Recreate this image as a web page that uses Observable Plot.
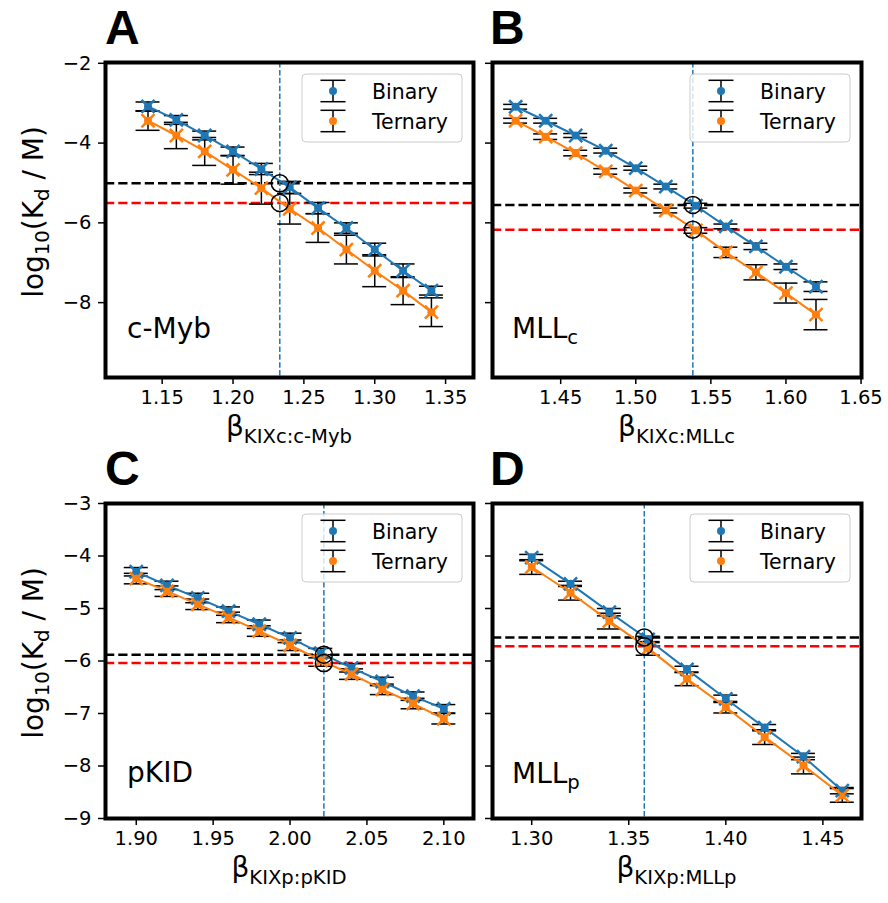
<!DOCTYPE html>
<html><head><meta charset="utf-8">
<script src="https://cdn.jsdelivr.net/npm/d3@7"></script>
<script src="https://cdn.jsdelivr.net/npm/@observablehq/plot@0.6"></script>
<style>
html,body{margin:0;padding:0;background:#fff;}
#wrap{position:relative;width:888px;height:903px;overflow:hidden;background:#fff;}
#wrap > div.p{position:absolute;}
#overlay{position:absolute;left:0;top:0;pointer-events:none;}
</style></head><body>
<div id="wrap"></div>
<script>
const blue = "#1f77b4", orange = "#ff7f0e";

// ---- Panel A: c-Myb ----
const xA = [1.14, 1.16, 1.18, 1.20, 1.22, 1.24, 1.26, 1.28, 1.30, 1.32, 1.34];
const binA = [-3.08, -3.42, -3.81, -4.21, -4.65, -5.11, -5.63, -6.13, -6.67, -7.20, -7.70];
const binErrA = [0.11, 0.11, 0.11, 0.11, 0.14, 0.15, 0.14, 0.13, 0.16, 0.17, 0.11];
const terA = [-3.44, -3.81, -4.21, -4.67, -5.13, -5.65, -6.13, -6.67, -7.20, -7.70, -8.24];
const terErrA = [0.24, 0.33, 0.35, 0.36, 0.40, 0.38, 0.36, 0.36, 0.40, 0.35, 0.36];
const hBlackA = -5.01, hRedA = -5.50, vA = 1.233;
const xTicksA = [1.15, 1.20, 1.25, 1.30, 1.35];

// ---- Panel B: MLLc ----
const xB = [1.42, 1.44, 1.46, 1.48, 1.50, 1.52, 1.54, 1.56, 1.58, 1.60, 1.62];
const binB = [-3.09, -3.44, -3.81, -4.19, -4.63, -5.09, -5.57, -6.09, -6.59, -7.10, -7.60];
const binErrB = [0.06, 0.06, 0.05, 0.06, 0.05, 0.06, 0.06, 0.06, 0.08, 0.07, 0.12];
const terB = [-3.44, -3.84, -4.25, -4.71, -5.19, -5.69, -6.19, -6.74, -7.24, -7.76, -8.30];
const terErrB = [0.06, 0.07, 0.07, 0.07, 0.06, 0.06, 0.07, 0.13, 0.19, 0.25, 0.38];
const hBlackB = -5.55, hRedB = -6.17, vB = 1.538;
const xTicksB = [1.45, 1.50, 1.55, 1.60, 1.65];

// ---- Panel C: pKID ----
const xC = [1.90, 1.92, 1.94, 1.96, 1.98, 2.00, 2.02, 2.04, 2.06, 2.08, 2.10];
const binC = [-4.30, -4.56, -4.80, -5.05, -5.30, -5.56, -5.85, -6.13, -6.39, -6.67, -6.91];
const binErrC = [0.08, 0.08, 0.09, 0.08, 0.08, 0.09, 0.09, 0.08, 0.08, 0.08, 0.08];
const terC = [-4.43, -4.67, -4.92, -5.17, -5.43, -5.70, -5.99, -6.25, -6.54, -6.81, -7.10];
const terErrC = [0.10, 0.10, 0.10, 0.10, 0.10, 0.10, 0.11, 0.10, 0.10, 0.10, 0.10];
const hBlackC = -5.88, hRedC = -6.04, vC = 2.022;
const xTicksC = [1.90, 1.95, 2.00, 2.05, 2.10];

// ---- Panel D: MLLp ----
const xD = [1.30, 1.32, 1.34, 1.36, 1.38, 1.40, 1.42, 1.44, 1.46];
const binD = [-4.03, -4.53, -5.07, -5.59, -6.16, -6.72, -7.27, -7.82, -8.47];
const binErrD = [0.06, 0.05, 0.07, 0.06, 0.06, 0.07, 0.06, 0.06, 0.06];
const terD = [-4.21, -4.70, -5.24, -5.76, -6.34, -6.88, -7.45, -7.99, -8.56];
const terErrD = [0.14, 0.14, 0.15, 0.13, 0.13, 0.11, 0.14, 0.16, 0.13];
const hBlackD = -5.55, hRedD = -5.72, vD = 1.358;
const xTicksD = [1.30, 1.35, 1.40, 1.45];

const yTicksTop = [-2, -4, -6, -8];
const yTicksBottom = [-3, -4, -5, -6, -7, -8, -9];
const seriesNames = ["Binary", "Ternary"];

const panels = [
  {x: xA, bin: binA, binErr: binErrA, ter: terA, terErr: terErrA, hBlack: hBlackA, hRed: hRedA, v: vA,
   xDomain: [1.110, 1.3697], xTicks: xTicksA, yDomain: [-9.877, -1.98], yTicks: yTicksTop, showY: true,
   left: 0, top: 0, width: 480, mL: 105, mR: 7},
  {x: xB, bin: binB, binErr: binErrB, ter: terB, terErr: terErrB, hBlack: hBlackB, hRed: hRedB, v: vB,
   xDomain: [1.4046, 1.6503], xTicks: xTicksB, yDomain: [-9.877, -1.98], yTicks: yTicksTop, showY: false,
   left: 480, top: 0, width: 408, mL: 12, mR: 27},
  {x: xC, bin: binC, binErr: binErrC, ter: terC, terErr: terErrC, hBlack: hBlackC, hRed: hRedC, v: vC,
   xDomain: [1.880, 2.1193], xTicks: xTicksC, yDomain: [-9.0, -3.0], yTicks: yTicksBottom, showY: true,
   left: 0, top: 441, width: 480, mL: 105, mR: 7},
  {x: xD, bin: binD, binErr: binErrD, ter: terD, terErr: terErrD, hBlack: hBlackD, hRed: hRedD, v: vD,
   xDomain: [1.2798, 1.4699], xTicks: xTicksD, yDomain: [-9.0, -3.0], yTicks: yTicksBottom, showY: true && false,
   left: 480, top: 441, width: 408, mL: 12, mR: 27}
];

function makePanel(p) {
  const bin = p.x.map((x, i) => ({x, y: p.bin[i], e: p.binErr[i]}));
  const ter = p.x.map((x, i) => ({x, y: p.ter[i], e: p.terErr[i]}));
  const all = bin.concat(ter);
  const rings = [{x: p.v, y: p.hBlack}, {x: p.v, y: p.hRed}];
  const cap = {x1: "x", x2: "x", stroke: "black", strokeWidth: 1.5, insetLeft: -12, insetRight: -12};
  return Plot.plot({
    width: p.width, height: 420,
    marginLeft: p.mL, marginRight: p.mR, marginTop: 62, marginBottom: 43,
    x: {domain: p.xDomain},
    y: {domain: p.yDomain},
    style: {background: "transparent", overflow: "visible", fontFamily: "'DejaVu Sans'", color: "black"},
    marks: [
      Plot.ruleY([p.hBlack], {stroke: "black", strokeWidth: 2.5, strokeDasharray: "9.25,4"}),
      Plot.ruleY([p.hRed], {stroke: "#ff0000", strokeWidth: 2.5, strokeDasharray: "9.25,4"}),
      Plot.ruleX([p.v], {stroke: blue, strokeWidth: 1.5, strokeDasharray: "5.5,2.4"}),
      Plot.ruleX(all, {x: "x", y1: d => d.y - d.e, y2: d => d.y + d.e, stroke: "black", strokeWidth: 1.5}),
      Plot.ruleY(all, {...cap, y: d => d.y + d.e}),
      Plot.ruleY(all, {...cap, y: d => d.y - d.e}),
      Plot.dot(bin, {x: "x", y: "y", r: 4, fill: blue}),
      Plot.dot(ter, {x: "x", y: "y", r: 4, fill: orange}),
      Plot.line(bin, {x: "x", y: "y", stroke: blue, strokeWidth: 2}),
      Plot.line(ter, {x: "x", y: "y", stroke: orange, strokeWidth: 2}),
      Plot.dot(bin, {x: "x", y: "y", symbol: "times", r: 6, stroke: blue, strokeWidth: 2.5}),
      Plot.dot(ter, {x: "x", y: "y", symbol: "times", r: 6, stroke: orange, strokeWidth: 2.5}),
      Plot.dot(rings, {x: "x", y: "y", r: 8.5, stroke: "black", strokeWidth: 1.5, fill: "none"}),
      Plot.axisX({ticks: p.xTicks, tickFormat: d3.format(".2f"), tickSize: 7, tickPadding: 6, fontSize: 19.5, strokeWidth: 1.5, label: null}),
      Plot.axisY({ticks: p.yTicks, tickFormat: p.showY ? d3.format("d") : () => "", tickSize: 7, tickPadding: 7, fontSize: 19.5, strokeWidth: 1.5, label: null}),
      Plot.frame({stroke: "black", strokeWidth: 4})
    ]
  });
}

const wrap = document.getElementById("wrap");
panels.forEach(p => {
  const d = document.createElement("div");
  d.className = "p";
  d.style.left = p.left + "px";
  d.style.top = p.top + "px";
  d.appendChild(makePanel(p));
  wrap.appendChild(d);
});

// ---- annotations (letters, axis labels, panel names, legends) ----
function legend(left, top) {
  const colors = [blue, orange];
  let s = `<rect x="${left}" y="${top}" width="160" height="68" rx="4" fill="white" fill-opacity="0.8" stroke="#cccccc" stroke-width="1"/>`;
  seriesNames.forEach((name, i) => {
    const cy = top + 17 + i * 30, cx = left + 31;
    s += `<line x1="${cx}" x2="${cx}" y1="${cy - 10.7}" y2="${cy + 10.7}" stroke="black" stroke-width="1.5"/>`;
    s += `<line x1="${cx - 12.5}" x2="${cx + 12.5}" y1="${cy - 10.7}" y2="${cy - 10.7}" stroke="black" stroke-width="1.5"/>`;
    s += `<line x1="${cx - 12.5}" x2="${cx + 12.5}" y1="${cy + 10.7}" y2="${cy + 10.7}" stroke="black" stroke-width="1.5"/>`;
    s += `<circle cx="${cx}" cy="${cy}" r="4" fill="${colors[i]}"/>`;
    s += `<text x="${left + 70}" y="${cy + 7.5}" font-size="20.5">${name}</text>`;
  });
  return s;
}
function ylab(cx, cy) {
  return `<text transform="translate(${cx},${cy}) rotate(-90)" text-anchor="middle" font-size="28">log<tspan font-size="19.6" dy="6">10</tspan><tspan dy="-6">(K</tspan><tspan font-size="19.6" dy="6">d</tspan><tspan dy="-6"> / M)</tspan></text>`;
}
function xlab(cx, y, sub) {
  return `<text x="${cx}" y="${y}" text-anchor="middle" font-size="28">β<tspan font-size="19.6" dy="7">${sub}</tspan></text>`;
}
const letterStyle = `font-family="'Liberation Sans', Arial, sans-serif" font-weight="bold" font-size="48"`;
let ov = `<svg id="overlay" width="888" height="903" font-family="'DejaVu Sans', sans-serif" fill="black">`;
ov += `<text x="105" y="44" ${letterStyle}>A</text>`;
ov += `<text x="490" y="44" ${letterStyle}>B</text>`;
ov += `<text x="105" y="485" ${letterStyle}>C</text>`;
ov += `<text x="490" y="485" ${letterStyle}>D</text>`;
ov += ylab(43, 212) + ylab(43, 653);
ov += xlab(289, 436, "KIXc:c-Myb") + xlab(676.5, 436, "KIXc:MLLc");
ov += xlab(289, 877, "KIXp:pKID") + xlab(676.5, 877, "KIXp:MLLp");
ov += `<text x="127" y="338" font-size="28">c-Myb</text>`;
ov += `<text x="512" y="338" font-size="28">MLL<tspan font-size="19.6" dy="6">c</tspan></text>`;
ov += `<text x="127" y="782" font-size="28">pKID</text>`;
ov += `<text x="512" y="783" font-size="28">MLL<tspan font-size="19.6" dy="6">p</tspan></text>`;
ov += legend(302, 74) + legend(690, 74) + legend(302, 514) + legend(690, 514);
ov += `</svg>`;
wrap.insertAdjacentHTML("beforeend", ov);
</script>
</body></html>
